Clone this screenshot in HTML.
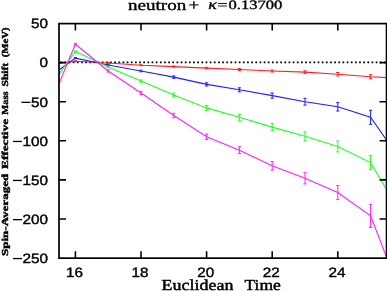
<!DOCTYPE html>
<html><head><meta charset="utf-8"><style>
html,body{margin:0;padding:0;background:#fff;overflow:hidden}
svg{display:block;will-change:transform}
text{text-rendering:geometricPrecision}
.tk{font-family:"Liberation Sans",sans-serif;font-size:13.5px;fill:#000;stroke:#000;stroke-width:0.4px}
.lb{font-family:"Liberation Serif",serif;fill:#000;stroke:#000;stroke-width:0.35px}
.xl{font-family:"Liberation Serif",serif;fill:#000;stroke:#000;stroke-width:0.45px}
.yl{font-family:"Liberation Serif",serif;font-weight:bold;fill:#000;stroke:#000;stroke-width:0.4px}
</style></head><body>
<svg width="387" height="291" viewBox="0 0 387 291">
<rect width="387" height="291" fill="#fff"/>
<line x1="59.0" y1="62.45" x2="386.55" y2="62.45" stroke="#000" stroke-width="1.8" stroke-dasharray="1.75,2.4" stroke-dashoffset="2.85"/>
<polyline points="59.0,63.2 75.4,61.2 108.2,63.0 141.0,65.2 173.8,66.6 206.6,68.1 239.4,69.5 272.2,71.0 305.0,72.1 337.8,74.2 370.6,76.8 387.0,77.6" fill="none" stroke="#ff2020" stroke-width="1.1"/>
<path d="M75.4,60.8V61.6M73.8,60.8h3.2M73.8,61.6h3.2M108.2,62.6V63.4M106.6,62.6h3.2M106.6,63.4h3.2M141.0,64.7V65.7M139.4,64.7h3.2M139.4,65.7h3.2M173.8,66.0V67.2M172.2,66.0h3.2M172.2,67.2h3.2M206.6,67.3V68.9M205.0,67.3h3.2M205.0,68.9h3.2M239.4,68.6V70.4M237.8,68.6h3.2M237.8,70.4h3.2M272.2,70.0V72.0M270.6,70.0h3.2M270.6,72.0h3.2M305.0,70.8V73.4M303.4,70.8h3.2M303.4,73.4h3.2M337.8,72.5V75.9M336.2,72.5h3.2M336.2,75.9h3.2M370.6,74.7V78.9M369.0,74.7h3.2M369.0,78.9h3.2" fill="none" stroke="#ff2020" stroke-width="1"/>
<polyline points="59.0,70.0 75.4,58.1 108.2,65.0 141.0,71.0 173.8,77.1 206.6,84.4 239.4,89.8 272.2,95.6 305.0,101.7 337.8,106.8 370.6,117.3 387.0,140.6" fill="none" stroke="#2020ff" stroke-width="1.1"/>
<path d="M75.4,57.6V58.6M73.8,57.6h3.2M73.8,58.6h3.2M108.2,64.4V65.6M106.6,64.4h3.2M106.6,65.6h3.2M141.0,70.2V71.8M139.4,70.2h3.2M139.4,71.8h3.2M173.8,75.9V78.3M172.2,75.9h3.2M172.2,78.3h3.2M206.6,82.8V86.0M205.0,82.8h3.2M205.0,86.0h3.2M239.4,87.8V91.8M237.8,87.8h3.2M237.8,91.8h3.2M272.2,93.0V98.2M270.6,93.0h3.2M270.6,98.2h3.2M305.0,98.3V105.1M303.4,98.3h3.2M303.4,105.1h3.2M337.8,102.6V111.0M336.2,102.6h3.2M336.2,111.0h3.2M370.6,110.3V124.3M369.0,110.3h3.2M369.0,124.3h3.2" fill="none" stroke="#2020ff" stroke-width="1"/>
<polyline points="59.0,74.4 75.4,51.4 108.2,67.0 141.0,81.1 173.8,94.9 206.6,107.9 239.4,117.3 272.2,127.1 305.0,136.3 337.8,146.5 370.6,162.6 387.0,190.0" fill="none" stroke="#20ff20" stroke-width="1.1"/>
<path d="M75.4,50.8V52.0M73.8,50.8h3.2M73.8,52.0h3.2M108.2,66.2V67.8M106.6,66.2h3.2M106.6,67.8h3.2M141.0,79.9V82.3M139.4,79.9h3.2M139.4,82.3h3.2M173.8,93.1V96.7M172.2,93.1h3.2M172.2,96.7h3.2M206.6,105.5V110.3M205.0,105.5h3.2M205.0,110.3h3.2M239.4,114.3V120.3M237.8,114.3h3.2M237.8,120.3h3.2M272.2,123.5V130.7M270.6,123.5h3.2M270.6,130.7h3.2M305.0,131.9V140.7M303.4,131.9h3.2M303.4,140.7h3.2M337.8,141.1V151.9M336.2,141.1h3.2M336.2,151.9h3.2M370.6,155.6V169.6M369.0,155.6h3.2M369.0,169.6h3.2" fill="none" stroke="#20ff20" stroke-width="1"/>
<polyline points="59.0,83.6 75.4,44.2 108.2,71.0 141.0,93.0 173.8,115.5 206.6,136.8 239.4,150.2 272.2,165.8 305.0,178.3 337.8,192.6 370.6,215.9 387.0,258.2" fill="none" stroke="#ff20ff" stroke-width="1.1"/>
<path d="M75.4,43.4V45.0M73.8,43.4h3.2M73.8,45.0h3.2M108.2,70.0V72.0M106.6,70.0h3.2M106.6,72.0h3.2M141.0,91.4V94.6M139.4,91.4h3.2M139.4,94.6h3.2M173.8,113.3V117.7M172.2,113.3h3.2M172.2,117.7h3.2M206.6,134.0V139.6M205.0,134.0h3.2M205.0,139.6h3.2M239.4,146.8V153.6M237.8,146.8h3.2M237.8,153.6h3.2M272.2,161.6V170.0M270.6,161.6h3.2M270.6,170.0h3.2M305.0,172.7V183.9M303.4,172.7h3.2M303.4,183.9h3.2M337.8,185.6V199.6M336.2,185.6h3.2M336.2,199.6h3.2M370.6,204.4V227.4M369.0,204.4h3.2M369.0,227.4h3.2" fill="none" stroke="#ff20ff" stroke-width="1"/>
<rect x="59.0" y="23.6" width="327.55" height="234.54999999999998" fill="none" stroke="#000" stroke-width="1.7"/>
<path d="M75.40,23.6v7M75.40,258.15v-7M141.00,23.6v7M141.00,258.15v-7M206.60,23.6v7M206.60,258.15v-7M272.20,23.6v7M272.20,258.15v-7M337.80,23.6v7M337.80,258.15v-7M59.0,62.6h7M386.55,62.6h-7M59.0,101.7h7M386.55,101.7h-7M59.0,140.75h7M386.55,140.75h-7M59.0,179.85h7M386.55,179.85h-7M59.0,219.0h7M386.55,219.0h-7" stroke="#000" stroke-width="1.55" fill="none"/>
<text transform="translate(47.9,28.4) scale(1.13,1)" text-anchor="end" class="tk">50</text>
<text transform="translate(47.9,67.4) scale(1.13,1)" text-anchor="end" class="tk">0</text>
<text transform="translate(47.9,106.5) scale(1.13,1)" text-anchor="end" class="tk">50</text>
<rect x="21.4" y="101.7" width="9.0" height="1.3" fill="#000"/>
<text transform="translate(47.9,145.6) scale(1.13,1)" text-anchor="end" class="tk">100</text>
<rect x="13.0" y="140.8" width="9.0" height="1.3" fill="#000"/>
<text transform="translate(47.9,184.7) scale(1.13,1)" text-anchor="end" class="tk">150</text>
<rect x="13.0" y="179.8" width="9.0" height="1.3" fill="#000"/>
<text transform="translate(47.9,223.8) scale(1.13,1)" text-anchor="end" class="tk">200</text>
<rect x="13.0" y="219.0" width="9.0" height="1.3" fill="#000"/>
<text transform="translate(47.9,262.7) scale(1.13,1)" text-anchor="end" class="tk">250</text>
<rect x="13.0" y="257.9" width="9.0" height="1.3" fill="#000"/>
<text transform="translate(74.5,277.2) scale(1.13,1)" text-anchor="middle" class="tk">16</text>
<text transform="translate(140.1,277.2) scale(1.13,1)" text-anchor="middle" class="tk">18</text>
<text transform="translate(205.7,277.2) scale(1.13,1)" text-anchor="middle" class="tk">20</text>
<text transform="translate(271.3,277.2) scale(1.13,1)" text-anchor="middle" class="tk">22</text>
<text transform="translate(336.9,277.2) scale(1.13,1)" text-anchor="middle" class="tk">24</text>

<text x="128.00" y="9.6" textLength="58.30" lengthAdjust="spacingAndGlyphs" class="lb" font-size="15.2" >neutron</text>
<text x="188.60" y="9.6" textLength="10.70" lengthAdjust="spacingAndGlyphs" class="lb" font-size="15.2" >+</text>
<text x="208.30" y="9.2" textLength="8.50" lengthAdjust="spacingAndGlyphs" class="lb" font-size="14" font-style="italic">κ</text>
<text x="217.60" y="9.2" textLength="9.90" lengthAdjust="spacingAndGlyphs" class="lb" font-size="13" >=</text>
<text x="228.50" y="9.2" textLength="53.90" lengthAdjust="spacingAndGlyphs" class="lb" font-size="12.8" >0.13700</text>
<text x="161.60" y="289.9" textLength="71.80" lengthAdjust="spacingAndGlyphs" class="xl" font-size="15.2" >Euclidean</text>
<text x="244.50" y="289.9" textLength="36.30" lengthAdjust="spacingAndGlyphs" class="xl" font-size="15.2" >Time</text>
<text transform="translate(7.7,256.00) rotate(-90)" x="0" y="0" textLength="82.20" lengthAdjust="spacingAndGlyphs" class="yl" font-size="9.2">Spin-Averaged</text>
<text transform="translate(7.7,168.90) rotate(-90)" x="0" y="0" textLength="49.90" lengthAdjust="spacingAndGlyphs" class="yl" font-size="9.2">Effective</text>
<text transform="translate(7.7,114.70) rotate(-90)" x="0" y="0" textLength="23.40" lengthAdjust="spacingAndGlyphs" class="yl" font-size="9.2">Mass</text>
<text transform="translate(7.7,86.50) rotate(-90)" x="0" y="0" textLength="23.70" lengthAdjust="spacingAndGlyphs" class="yl" font-size="9.2">Shift</text>
<text transform="translate(7.7,57.30) rotate(-90)" x="0" y="0" textLength="29.90" lengthAdjust="spacingAndGlyphs" class="yl" font-size="9.2">(MeV)</text>

</svg>
</body></html>
